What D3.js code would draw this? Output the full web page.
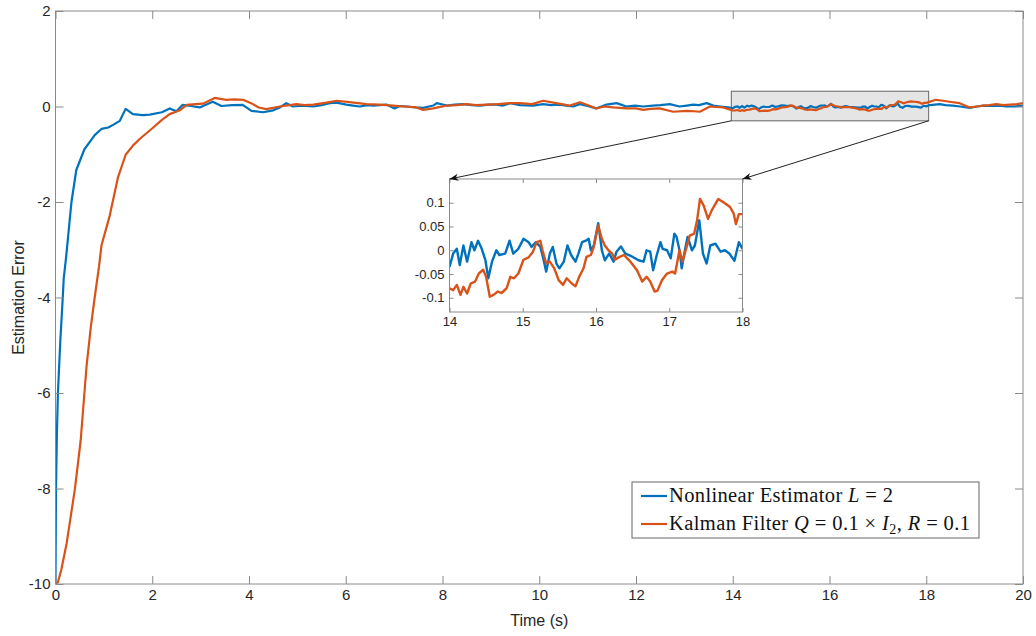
<!DOCTYPE html>
<html>
<head>
<meta charset="utf-8">
<script src="https://cdn.jsdelivr.net/npm/d3@7"></script>
<style>
  body { margin: 0; background: #fff; }
  text { font-family: "Liberation Sans", Arial, Helvetica, sans-serif; }
</style>
</head>
<body>
<div id="chart"></div>
<script>
// [time (s), estimation error]
// nonlinear estimator (blue)
var nlStart = [[0,-10],[0.01,-8],[0.03,-6.8],[0.05,-6],[0.1,-4.9],[0.15,-4],[0.17,-3.6],[0.22,-3.15],[0.26,-2.73],[0.33,-2],
  [0.43,-1.33],[0.6,-0.89],[0.71,-0.74],[0.81,-0.6],[0.95,-0.47],[1.09,-0.44],[1.2,-0.38],[1.33,-0.3],[1.45,-0.05],
  [1.6,-0.16],[1.8,-0.18],[1.95,-0.17],[2.2,-0.12],[2.36,-0.04],[2.5,-0.1],[2.63,0.035],[2.8,0.01],[2.98,-0.02],
  [3.25,0.1],[3.43,0.01],[3.65,0.03],[3.87,0.035],[4.05,-0.09],[4.29,-0.12],[4.5,-0.08],[4.64,-0.02],[4.77,0.07],[4.91,0]];
var nlMid = [[5.1,0.02],[5.33,0],[5.5,0.03],[5.67,0.07],[5.81,0.08],[6.01,0.04],[6.15,0.02],[6.29,0],[6.45,0.03],[6.57,0.02],
  [6.7,0.03],[6.84,0.04],[7.01,-0.04],[7.12,0.01],[7.26,0],[7.45,-0.02],[7.6,-0.03],[7.72,0],[7.81,0.02],[7.88,0.07],
  [8.09,0.02],[8.25,0.04],[8.43,0.05],[8.6,0.03],[8.78,0.02],[8.95,0.04],[9.12,0.04],[9.25,0.02],[9.4,0.07],[9.6,0.03],
  [9.87,0.02],[10.08,0.05],[10.25,0.03],[10.42,0.04],[10.55,0.02],[10.7,0],[10.84,0.05],[11.0,0.01],[11.18,-0.04],
  [11.39,0.04],[11.6,0.07],[11.8,0],[11.98,0.02],[12.15,0],[12.35,0.02],[12.5,0.03],[12.7,0.05],[12.9,0],[13.05,0.02],
  [13.18,0.04],[13.3,0.03],[13.46,0.07],[13.6,0.02],[13.74,0],[13.9,-0.02]];
var nlZoom = [[14,-0.035],[14.05,-0.007],[14.1,0.003],[14.14,-0.031],[14.19,0.01],[14.24,-0.024],[14.3,0.017],[14.34,0],
  [14.39,0.02],[14.44,0.003],[14.49,-0.021],[14.53,-0.059],[14.58,-0.024],[14.64,0],[14.68,-0.01],[14.76,-0.007],
  [14.82,0.02],[14.87,-0.007],[14.94,0.003],[15.01,0.024],[15.08,0.017],[15.12,0.007],[15.18,0.017],[15.24,0.007],
  [15.28,-0.017],[15.32,-0.045],[15.37,-0.007],[15.41,0.007],[15.46,-0.028],[15.5,-0.038],[15.56,-0.024],[15.61,0.01],
  [15.66,-0.01],[15.72,-0.024],[15.76,-0.007],[15.81,0.017],[15.87,0.021],[15.9,0.024],[15.93,0],[15.97,0.01],
  [16.03,0.057],[16.08,0],[16.12,-0.021],[16.18,-0.007],[16.24,-0.024],[16.28,-0.003],[16.34,0.008],[16.4,-0.007],
  [16.49,-0.013],[16.58,-0.021],[16.65,-0.024],[16.69,0],[16.74,-0.003],[16.78,-0.042],[16.83,-0.01],[16.88,0.017],
  [16.91,0.003],[16.97,0],[17.02,-0.017],[17.07,0.035],[17.1,0.028],[17.14,0],[17.17,-0.038],[17.21,-0.003],
  [17.25,0.028],[17.31,0],[17.35,0.01],[17.41,0.063],[17.46,-0.007],[17.51,-0.028],[17.56,0.01],[17.63,0.014],
  [17.7,-0.003],[17.76,0],[17.82,-0.007],[17.89,-0.022],[17.95,0.017],[18,0.003]];
var nlEnd = [[18.07,0.03],[18.28,0.05],[18.4,0.03],[18.55,0.02],[18.7,0],[18.9,-0.03],[19.05,0],[19.18,0.02],
  [19.35,0.01],[19.52,0.02],[19.65,0],[19.8,0],[20,0.02]];

// kalman filter (orange)
var kfStart = [[0,-10],[0.05,-9.96],[0.12,-9.7],[0.23,-9.15],[0.4,-8.02],[0.52,-7],[0.64,-5.46],[0.73,-4.62],[0.81,-4],
  [0.9,-3.35],[0.95,-2.91],[1.12,-2.29],[1.29,-1.49],[1.45,-1.01],[1.6,-0.82],[1.74,-0.68],[2.02,-0.44],[2.2,-0.28],
  [2.36,-0.16],[2.57,-0.08],[2.71,0.035],[2.9,0.05],[3.05,0.06],[3.29,0.18],[3.53,0.14],[3.7,0.15],[3.88,0.14],
  [4.08,0.05],[4.2,-0.02],[4.36,-0.055],[4.64,0],[4.98,0.05]];
var kfMid = [[5.15,0.03],[5.33,0.04],[5.6,0.08],[5.81,0.12],[6.08,0.09],[6.25,0.07],[6.43,0.05],[6.7,0.04],[6.98,0.02],
  [7.19,0],[7.46,-0.02],[7.6,-0.07],[7.81,-0.04],[8.09,0.02],[8.3,0.03],[8.5,0.05],[8.7,0.03],[8.92,0.04],[9.15,0.05],
  [9.4,0.07],[9.6,0.07],[9.85,0.05],[10.08,0.12],[10.35,0.07],[10.63,0.02],[10.84,0.09],[11.0,0.03],[11.18,-0.04],
  [11.35,0],[11.53,-0.02],[11.8,-0.04],[12.0,-0.04],[12.15,-0.07],[12.3,-0.05],[12.49,-0.04],[12.77,-0.11],
  [13.05,-0.09],[13.2,-0.1],[13.32,-0.11],[13.53,0],[13.8,-0.02],[13.93,-0.06]];
var kfZoom = [[14,-0.08],[14.05,-0.084],[14.1,-0.073],[14.15,-0.094],[14.19,-0.077],[14.24,-0.091],[14.29,-0.07],
  [14.35,-0.066],[14.4,-0.049],[14.46,-0.041],[14.5,-0.056],[14.55,-0.098],[14.6,-0.094],[14.66,-0.087],[14.71,-0.09],
  [14.78,-0.08],[14.83,-0.056],[14.88,-0.059],[14.94,-0.049],[15.01,-0.02],[15.08,-0.015],[15.14,-0.003],[15.19,0.017],
  [15.24,0.02],[15.27,0],[15.32,-0.028],[15.37,-0.024],[15.43,-0.038],[15.49,-0.063],[15.55,-0.073],[15.6,-0.059],
  [15.67,-0.07],[15.72,-0.076],[15.77,-0.056],[15.83,-0.038],[15.87,-0.014],[15.93,-0.01],[15.97,0.007],[16.03,0.052],
  [16.08,0.024],[16.12,0.01],[16.17,0],[16.22,-0.007],[16.26,-0.02],[16.31,-0.015],[16.38,-0.01],[16.47,-0.024],
  [16.56,-0.042],[16.63,-0.066],[16.69,-0.056],[16.74,-0.066],[16.8,-0.087],[16.84,-0.085],[16.9,-0.063],[16.97,-0.049],
  [17.04,-0.045],[17.08,-0.049],[17.14,0],[17.18,-0.024],[17.23,0.003],[17.28,0.031],[17.34,0.035],[17.38,0.063],
  [17.42,0.108],[17.47,0.094],[17.53,0.066],[17.58,0.084],[17.67,0.108],[17.76,0.099],[17.83,0.091],[17.88,0.077],
  [17.91,0.055],[17.95,0.076],[18,0.076]];
var kfEnd = [[18.2,0.14],[18.35,0.12],[18.48,0.1],[18.69,0.07],[18.9,-0.02],[19.05,0],[19.18,0.02],[19.3,0.03],
  [19.45,0.05],[19.6,0.03],[19.73,0.04],[19.88,0.05],[20,0.07]];

var mainXTicks = [0,2,4,6,8,10,12,14,16,18,20];
var mainYTicks = [-10,-8,-6,-4,-2,0,2];
var zoomXTicks = [14,15,16,17,18];
var zoomYTicks = [-0.1,-0.05,0,0.05,0.1];
var zoomBox = [[13.97,18.05],[-0.3,0.32]];   // highlighted region on the main axes

var seriesNames = ["Nonlinear Estimator", "Kalman Filter"];
var seriesColors = ["#0072BD", "#D95319"];

var nlData = nlStart.concat(nlMid, nlZoom, nlEnd);
var kfData = kfStart.concat(kfMid, kfZoom, kfEnd);

var width = 1036, height = 636;
var axisColor = "#8a8a8a", textColor = "#262626";

var svg = d3.select("#chart").append("svg")
    .attr("width", width)
    .attr("height", height);

svg.append("defs").append("marker")
    .attr("id", "arrow")
    .attr("viewBox", "0 0 10 10")
    .attr("refX", 10).attr("refY", 5)
    .attr("markerWidth", 9).attr("markerHeight", 9)
    .attr("markerUnits", "userSpaceOnUse")
    .attr("orient", "auto")
    .append("path")
    .attr("d", "M0,1 L10,5 L0,9 L3,5 Z")
    .attr("fill", "#111");

function translate(x, y){ return "translate(" + x + "," + y + ")"; }
function fmt(d){ return String(d); }

// draws a boxed axes with inward ticks on all four sides
function drawAxes(g, x, y, xt, yt, tick, fontSize){
    var x0 = x.range()[0], x1 = x.range()[1], y0 = y.range()[0], y1 = y.range()[1];
    var ax = [
        { a: d3.axisBottom(x).tickValues(xt).tickFormat(fmt), t: translate(0, y0) },
        { a: d3.axisTop(x).tickValues(xt).tickFormat(""), t: translate(0, y1) },
        { a: d3.axisLeft(y).tickValues(yt).tickFormat(fmt), t: translate(x0, 0) },
        { a: d3.axisRight(y).tickValues(yt).tickFormat(""), t: translate(x1, 0) }
    ];
    ax.forEach(function(o){
        var s = g.append("g")
            .attr("transform", o.t)
            .call(o.a.tickSizeInner(-tick).tickSizeOuter(0).tickPadding(5));
        s.select(".domain").remove();
        s.selectAll(".tick line").attr("stroke", axisColor);
        s.selectAll(".tick text")
            .attr("fill", textColor)
            .style("font-size", fontSize + "px")
            .style("font-family", "'Liberation Sans', Arial, sans-serif");
    });
    g.append("rect")
        .attr("x", x0).attr("y", y1)
        .attr("width", x1 - x0).attr("height", y0 - y1)
        .attr("fill", "none")
        .attr("stroke", axisColor);
}

// ---------- main axes ----------
var xScale = d3.scaleLinear().domain([0, 20]).range([55.5, 1023]);
var yScale = d3.scaleLinear().domain([-10, 2]).range([584, 11]);

var main = svg.append("g").attr("class", "main");

main.append("clipPath").attr("id", "clipMain")
    .append("rect")
    .attr("x", xScale(0)).attr("y", yScale(2))
    .attr("width", xScale(20) - xScale(0)).attr("height", yScale(-10) - yScale(2));

main.append("rect")
    .attr("x", xScale(zoomBox[0][0]))
    .attr("y", yScale(zoomBox[1][1]))
    .attr("width", xScale(zoomBox[0][1]) - xScale(zoomBox[0][0]))
    .attr("height", yScale(zoomBox[1][0]) - yScale(zoomBox[1][1]))
    .attr("fill", "#e5e5e5")
    .attr("stroke", "#666")
    .attr("stroke-width", 1);

var mainLine = d3.line()
    .x(function(d){ return xScale(d[0]); })
    .y(function(d){ return yScale(d[1]); });

main.selectAll(".series")
    .data([nlData, kfData])
    .enter()
    .append("path")
    .attr("class", "series")
    .attr("clip-path", "url(#clipMain)")
    .attr("d", mainLine)
    .attr("fill", "none")
    .attr("stroke", function(d, i){ return seriesColors[i]; })
    .attr("stroke-width", 2.2)
    .attr("stroke-linejoin", "round");

drawAxes(main, xScale, yScale, mainXTicks, mainYTicks, 8, 15);

main.append("text")
    .attr("x", (xScale(0) + xScale(20)) / 2)
    .attr("y", 626)
    .attr("text-anchor", "middle")
    .attr("fill", textColor)
    .style("font-size", "16px")
    .text("Time (s)");

main.append("text")
    .attr("transform", translate(24, (yScale(2) + yScale(-10)) / 2) + " rotate(-90)")
    .attr("text-anchor", "middle")
    .attr("fill", textColor)
    .style("font-size", "16px")
    .text("Estimation Error");

// ---------- inset ----------
var zx = d3.scaleLinear().domain([14, 18]).range([449.5, 742.5]);
var zy = d3.scaleLinear().domain([-0.13, 0.15]).range([312, 179]);

var inset = svg.append("g").attr("class", "inset");

inset.append("rect")
    .attr("x", zx(14)).attr("y", zy(0.15))
    .attr("width", zx(18) - zx(14)).attr("height", zy(-0.13) - zy(0.15))
    .attr("fill", "#fff");

inset.append("clipPath").attr("id", "clipInset")
    .append("rect")
    .attr("x", zx(14)).attr("y", zy(0.15))
    .attr("width", zx(18) - zx(14)).attr("height", zy(-0.13) - zy(0.15));

var insetLine = d3.line()
    .x(function(d){ return zx(d[0]); })
    .y(function(d){ return zy(d[1]); });

inset.selectAll(".series")
    .data([nlZoom, kfZoom])
    .enter()
    .append("path")
    .attr("class", "series")
    .attr("clip-path", "url(#clipInset)")
    .attr("d", insetLine)
    .attr("fill", "none")
    .attr("stroke", function(d, i){ return seriesColors[i]; })
    .attr("stroke-width", 2.4)
    .attr("stroke-linejoin", "round");

drawAxes(inset, zx, zy, zoomXTicks, zoomYTicks, 4, 13);

// arrows from highlighted box to the inset
var arrows = [
    [[zoomBox[0][0], zoomBox[1][0]], [14, 0.15]],
    [[zoomBox[0][1], zoomBox[1][0]], [18, 0.15]]
];
svg.selectAll(".zoom-arrow")
    .data(arrows)
    .enter()
    .append("line")
    .attr("class", "zoom-arrow")
    .attr("x1", function(d){ return xScale(d[0][0]); })
    .attr("y1", function(d){ return yScale(d[0][1]); })
    .attr("x2", function(d){ return zx(d[1][0]); })
    .attr("y2", function(d){ return zy(d[1][1]); })
    .attr("stroke", "#222")
    .attr("stroke-width", 1)
    .attr("marker-end", "url(#arrow)");

// ---------- legend ----------
var legend = svg.append("g").attr("transform", translate(632, 482));
legend.append("rect")
    .attr("width", 347).attr("height", 56)
    .attr("fill", "#fff")
    .attr("stroke", "#666");

var legendRows = [
    [{t: seriesNames[0] + " "}, {t: "L", i: true}, {t: " = 2"}],
    [{t: seriesNames[1] + " "}, {t: "Q", i: true}, {t: " = 0.1 × "}, {t: "I", i: true}, {t: "2", sub: true},
     {t: ", "}, {t: "R", i: true}, {t: " = 0.1"}]
];
var legendWidths = [224, 301];

legendRows.forEach(function(row, i){
    var ly = 14 + i * 28;
    legend.append("line")
        .attr("x1", 9).attr("x2", 35)
        .attr("y1", ly).attr("y2", ly)
        .attr("stroke", seriesColors[i])
        .attr("stroke-width", 2.2);
    var txt = legend.append("text")
        .attr("x", 37).attr("y", ly + 6)
        .attr("fill", "#111")
        .attr("textLength", legendWidths[i])
        .attr("lengthAdjust", "spacing")
        .style("font-family", "'Liberation Serif', 'Times New Roman', serif")
        .style("font-size", "20.5px");
    row.forEach(function(p, k){
        var ts = txt.append("tspan").text(p.t);
        if(p.i) ts.style("font-style", "italic");
        if(p.sub) ts.attr("dy", 4).style("font-size", "14px");
        else if(k > 0 && row[k - 1].sub) ts.attr("dy", -4);
    });
});
</script>
</body>
</html>
